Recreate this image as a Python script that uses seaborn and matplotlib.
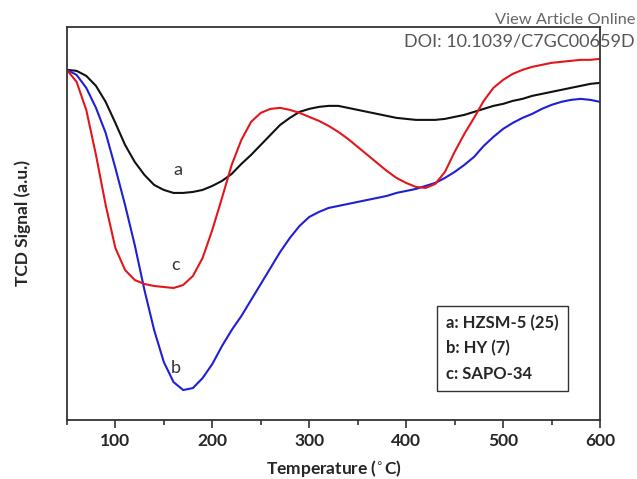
import matplotlib
matplotlib.use("Agg")
import matplotlib.pyplot as plt
from matplotlib.ticker import MultipleLocator
import seaborn as sns
import pandas as pd
import numpy as np

# temperature grid (deg C) and TCD signal (a.u.)
temperature = list(range(50, 601, 10))

signal_a = [350, 349, 344, 334, 318, 297, 275, 258, 245, 235, 230, 227, 227, 228,
            230, 234, 239, 246, 256, 265, 275, 285, 295, 302, 308, 311, 313, 314,
            314, 312, 310, 308, 306, 304, 302, 301, 300, 300, 300, 301, 303, 305,
            308, 311, 314, 316, 319, 321, 324, 326, 328, 330, 332, 334, 336, 337]

signal_b = [350, 345, 332, 312, 287, 252, 215, 175, 130, 90, 58, 38, 30, 32,
            42, 56, 74, 90, 104, 120, 136, 152, 168, 182, 194, 203, 208, 212,
            214, 216, 218, 220, 222, 224, 227, 229, 231, 234, 237, 242, 248, 255,
            263, 274, 283, 291, 297, 302, 306, 311, 315, 318, 320, 321, 320, 318]

signal_c = [350, 338, 310, 265, 215, 172, 150, 140, 136, 134, 133, 132, 135, 144,
            162, 190, 222, 255, 280, 298, 307, 311, 312, 310, 307, 303, 299, 294,
            288, 281, 273, 265, 257, 249, 242, 237, 233, 232, 236, 248, 268, 286,
            302, 319, 332, 340, 346, 350, 353, 355, 357, 358, 359, 360, 360, 361]

samples = ["a: HZSM-5 (25)", "b: HY (7)", "c: SAPO-34"]
colors = ["#111111", "#1f1fd6", "#e3161c"]

df = pd.concat([
    pd.DataFrame({"T": temperature, "signal": s, "sample": name})
    for s, name in zip([signal_a, signal_b, signal_c], samples)
])

sns.set_style("white")
plt.rcParams["font.family"] = ["Lato", "DejaVu Sans"]

fig = plt.figure(figsize=(6.37, 4.79), dpi=100)
ax = fig.add_axes([0.105, 0.123, 0.837, 0.821])

sns.lineplot(data=df, x="T", y="signal", hue="sample", palette=colors,
             linewidth=1.5, ax=ax, sort=False)
for ln in ax.get_lines():
    ln.set_solid_joinstyle("round")

ax.set_xlim(50, 600)
ax.set_ylim(0, 393)
ax.set_yticks([])
ax.xaxis.set_major_locator(MultipleLocator(100))
ax.xaxis.set_minor_locator(MultipleLocator(50))
ax.tick_params(axis="x", which="major", direction="out", length=6, width=1.2,
               color="#333333", bottom=True, labelsize=12.5, pad=3)
ax.tick_params(axis="x", which="minor", direction="out", length=3.5, width=1.2,
               color="#333333", bottom=True)
for lab in ax.get_xticklabels():
    lab.set_fontweight("bold")
for sp in ax.spines.values():
    sp.set_color("#333333")
    sp.set_linewidth(1.3)

ax.set_xlabel("Temperature ($^{\\circ}$C)", fontsize=12.5, fontweight="bold", labelpad=7)
ax.set_ylabel("TCD Signal (a.u.)", fontsize=12.5, fontweight="bold", labelpad=26)

# curve labels
for txt, x, y in [("a", 164, 250), ("c", 162, 155), ("b", 162, 52)]:
    ax.text(x, y, txt, fontsize=13, color="#333333", ha="center", va="center")

leg = ax.legend(loc="lower right", bbox_to_anchor=(0.94, 0.074), handlelength=0,
                handletextpad=0, fancybox=False, framealpha=1, edgecolor="#333333",
                prop={"weight": "bold", "size": 12}, labelspacing=0.55,
                borderpad=0.55, borderaxespad=0)
for h in leg.legend_handles:
    h.set_visible(False)
leg.get_frame().set_linewidth(1.0)

fig.text(0.997, 0.958, "View Article Online", ha="right", va="center",
         fontsize=11.8, color="#666666")
fig.text(0.997, 0.914, "DOI: 10.1039/C7GC00659D", ha="right", va="center",
         fontsize=13, color="#555555")

fig.savefig("out.png", dpi=100)
